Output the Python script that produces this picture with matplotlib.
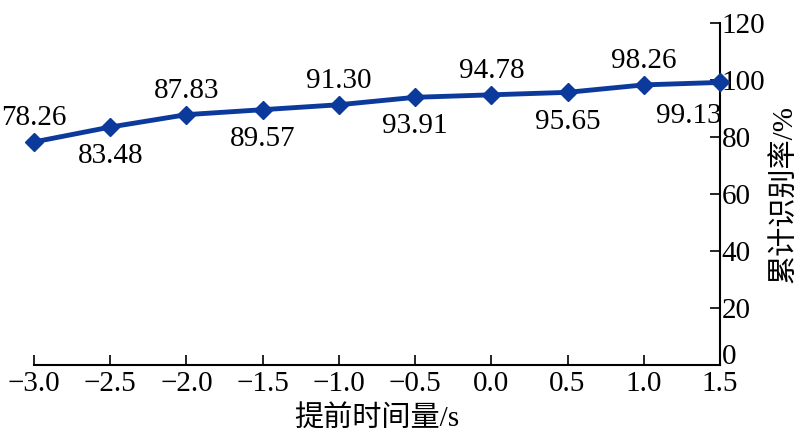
import matplotlib
matplotlib.use("Agg")
import matplotlib.pyplot as plt
import matplotlib.transforms as mtransforms

# 数据
t_adv = [-3.0, -2.5, -2.0, -1.5, -1.0, -0.5, 0.0, 0.5, 1.0, 1.5]
rate = [78.26, 83.48, 87.83, 89.57, 91.30, 93.91, 94.78, 95.65, 98.26, 99.13]
x_ticks = [-3.0, -2.5, -2.0, -1.5, -1.0, -0.5, 0.0, 0.5, 1.0, 1.5]
y_ticks = [0, 20, 40, 60, 80, 100, 120]

plt.rcParams['font.family'] = ['Liberation Serif', 'Noto Sans CJK SC']
plt.rcParams['axes.unicode_minus'] = True

fig = plt.figure(figsize=(8, 4.4), dpi=100)
ax = fig.add_axes([0.0425, 0.17, 0.8575, 0.778])

color = '#0c3a9c'
ax.plot(t_adv, rate, color=color, linewidth=3.5, marker='D', markersize=9,
        clip_on=False, zorder=3)

# 数值标注（上下交替）
for i, (x, y) in enumerate(zip(t_adv, rate)):
    if i == len(t_adv) - 1:
        ax.annotate(f'{y:.2f}', (x, y), xytext=(1, -24), textcoords='offset points',
                    ha='right', va='center', fontsize=21)
    elif i % 2 == 0:
        ax.annotate(f'{y:.2f}', (x, y), xytext=(0, 17), textcoords='offset points',
                    ha='center', va='center', fontsize=21)
    else:
        ax.annotate(f'{y:.2f}', (x, y), xytext=(0, -21), textcoords='offset points',
                    ha='center', va='center', fontsize=21)

ax.set_xlim(-3.0, 1.5)
ax.set_ylim(0, 120)
ax.set_xticks(x_ticks)
ax.set_xticklabels([f'{v:.1f}'.replace('-', '\u2212') for v in x_ticks])
ax.set_yticks(y_ticks)

ax.spines['left'].set_visible(False)
ax.spines['top'].set_visible(False)
ax.spines['bottom'].set_linewidth(1.5)
ax.spines['right'].set_linewidth(1.5)

ax.yaxis.tick_right()
ax.yaxis.set_label_position('right')
ax.tick_params(axis='x', direction='in', length=7, width=1.2, labelsize=21, pad=4)
ax.tick_params(axis='y', direction='in', length=7, width=1.2, labelsize=21, pad=1)

# "0" 标签略微上移，避免与 1.5 重叠
lbl0 = ax.get_yticklabels()[0]
lbl0.set_transform(lbl0.get_transform() +
                   mtransforms.ScaledTranslation(0, 8 / 72, fig.dpi_scale_trans))

ax.set_xlabel('提前时间量/s', fontsize=21, labelpad=6)
ax.set_ylabel('累计识别率/%', fontsize=21, labelpad=4)

fig.savefig('out.png', dpi=100)
